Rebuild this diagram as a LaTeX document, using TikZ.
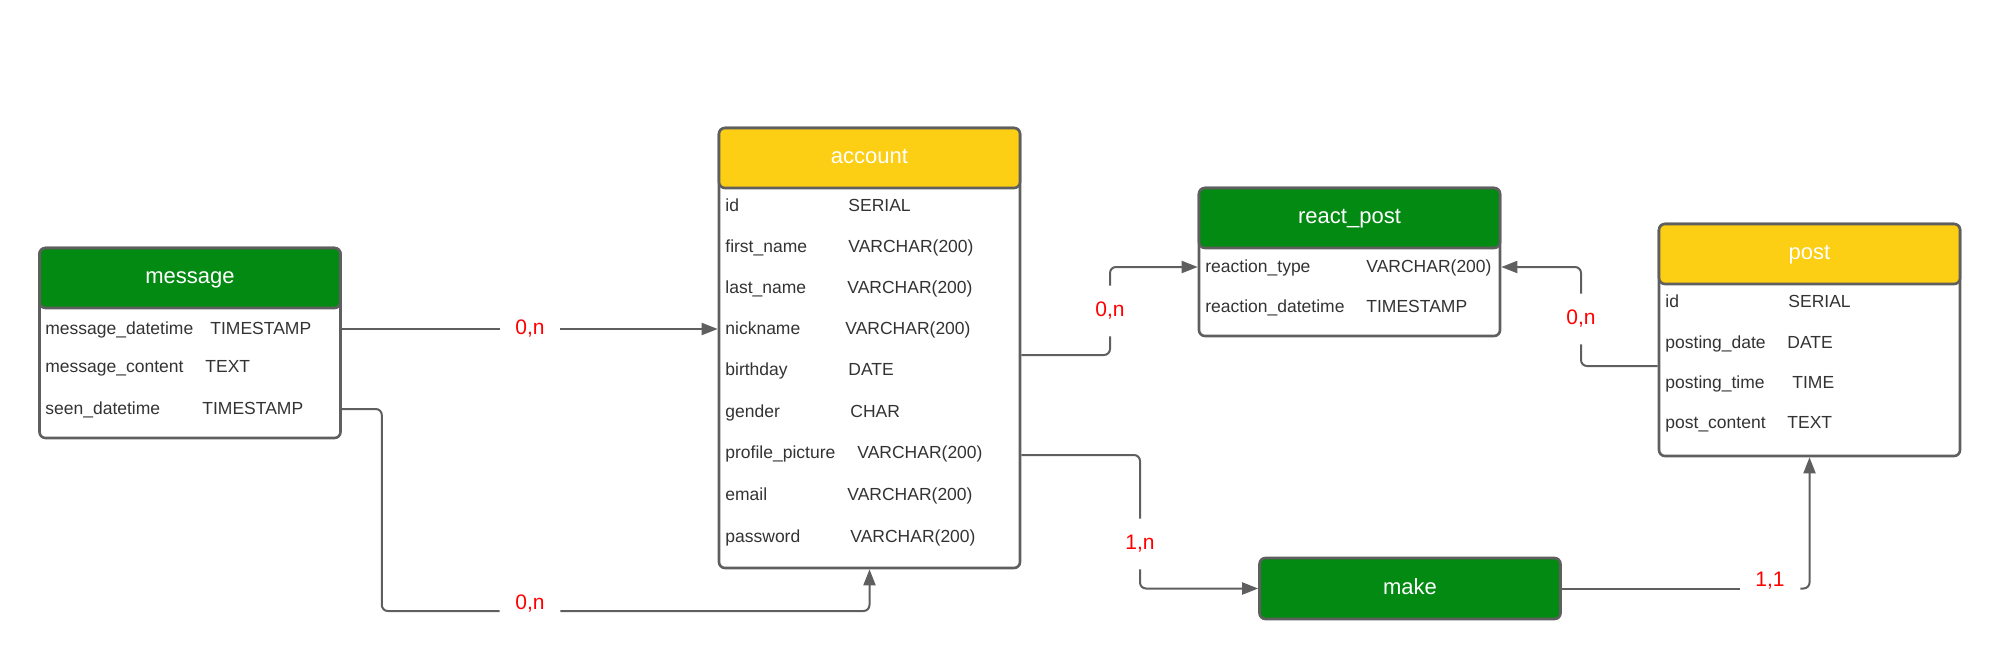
\documentclass[tikz,border=0pt]{standalone}
\usepackage{fontspec}
\setmainfont{Liberation Sans}
\usetikzlibrary{arrows.meta}
\definecolor{hgreen}{HTML}{038A13}
\definecolor{hyellow}{HTML}{FCCE14}
\definecolor{lgray}{HTML}{5F5F5F}
\definecolor{tgray}{HTML}{333333}
\definecolor{lred}{HTML}{FF0000}
\begin{document}
\begin{tikzpicture}[x=0.5pt,y=-0.5pt,
 tbl/.style={draw=lgray, line width=1.3pt, rounded corners=3pt, fill=white, minimum width=150.5pt, inner sep=0pt},
 hdr/.style={draw=lgray, line width=1.3pt, rounded corners=3pt, minimum width=150.5pt, minimum height=30pt, inner sep=0pt, text=white, font=\fontsize{11}{13}\selectfont, text height=5.7pt, text depth=0pt},
 fld/.style={anchor=west, inner sep=0pt, text=tgray, font=\fontsize{8.75}{10}\selectfont, text height=5.5pt, text depth=0pt},
 card/.style={text=lred, font=\fontsize{10.5}{12}\selectfont, inner sep=0pt, minimum width=30pt, minimum height=25pt},
 conn/.style={draw=lgray, line width=1pt, rounded corners=3pt},
 arr/.style={conn, -{Triangle[length=8pt,width=6pt]}}
]
\useasboundingbox (0,0) rectangle (2000,670);

% message
\node[tbl, minimum height=95pt] (message) at (190,343) {};
\node[hdr, fill=hgreen] (messageh) at (190,278) {message};
\node[fld] (m1) at (45,329) {message\_datetime};
\node[fld] (m1t) at (210,329) {TIMESTAMP};
\node[fld] (m2) at (45,367) {message\_content};
\node[fld] (m2t) at (205,367) {TEXT};
\node[fld] (m3) at (45,409) {seen\_datetime};
\node[fld] (m3t) at (202,409) {TIMESTAMP};

% account
\node[tbl, minimum height=220pt] (account) at (869.5,348) {};
\node[hdr, fill=hyellow] (accounth) at (869.5,158) {account};
\node[fld] (a1) at (725,206) {id};
\node[fld] (a1t) at (848,206) {SERIAL};
\node[fld] (a2) at (725,247) {first\_name};
\node[fld] (a2t) at (848,247) {VARCHAR(200)};
\node[fld] (a3) at (725,288) {last\_name};
\node[fld] (a3t) at (847,288) {VARCHAR(200)};
\node[fld] (a4) at (725,329) {nickname};
\node[fld] (a4t) at (845,329) {VARCHAR(200)};
\node[fld] (a5) at (725,370) {birthday};
\node[fld] (a5t) at (848,370) {DATE};
\node[fld] (a6) at (725,412) {gender};
\node[fld] (a6t) at (850,412) {CHAR};
\node[fld] (a7) at (725,453) {profile\_picture};
\node[fld] (a7t) at (857,453) {VARCHAR(200)};
\node[fld] (a8) at (725,495) {email};
\node[fld] (a8t) at (847,495) {VARCHAR(200)};
\node[fld] (a9) at (725,537) {password};
\node[fld] (a9t) at (850,537) {VARCHAR(200)};

% react_post
\node[tbl, minimum height=74pt] (react) at (1349.5,262) {};
\node[hdr, fill=hgreen] (reacth) at (1349.5,218) {react\_post};
\node[fld] (r1) at (1205,267) {reaction\_type};
\node[fld] (r1t) at (1366,267) {VARCHAR(200)};
\node[fld] (r2) at (1205,307) {reaction\_datetime};
\node[fld] (r2t) at (1366,307) {TIMESTAMP};

% post
\node[tbl, minimum height=116pt] (post) at (1809.5,340) {};
\node[hdr, fill=hyellow] (posth) at (1809.5,254) {post};
\node[fld] (p1) at (1665,302) {id};
\node[fld] (p1t) at (1788,302) {SERIAL};
\node[fld] (p2) at (1665,343) {posting\_date};
\node[fld] (p2t) at (1787,343) {DATE};
\node[fld] (p3) at (1665,383) {posting\_time};
\node[fld] (p3t) at (1792,383) {TIME};
\node[fld] (p4) at (1665,423) {post\_content};
\node[fld] (p4t) at (1787,423) {TEXT};

% make
\node[hdr, fill=hgreen, minimum height=30.5pt] (make) at (1410,588.5) {make};

% cardinality labels
\node[card] (lab1) at (530,329) {0,n};
\node[card] (lab2) at (530,611) {\raisebox{3.75pt}[\height][\depth]{0,n}};
\node[card] (lab3) at (1110,311) {0,n};
\node[card] (lab4) at (1581,319) {0,n};
\node[card] (lab5) at (1140,544) {1,n};
\node[card] (lab6) at (1770,588.5) {\raisebox{3.75pt}[\height][\depth]{1,1}};

% connectors
\draw[conn] (message.east |- m1) -- (lab1.west);
\draw[arr] (lab1.east) -- (account.west |- m1);
\draw[conn] (message.east |- m3) -- ++(40,0) |- (lab2.west);
\draw[arr] (lab2.east) -| (account.south);
\draw[conn] ([yshift=-3.5pt]account.east) -| (lab3.south);
\draw[arr] (lab3.north) |- (react.west |- r1);
\draw[conn] ([yshift=-13pt]post.west) -| (lab4.south);
\draw[arr] (lab4.north) |- (react.east |- r1);
\draw[conn] ([yshift=-53.5pt]account.east) -| (lab5.north);
\draw[arr] (lab5.south) |- (make.west);
\draw[conn] (make.east) -- (lab6.west);
\draw[arr] (lab6.east) -| (post.south);
\end{tikzpicture}
\end{document}
